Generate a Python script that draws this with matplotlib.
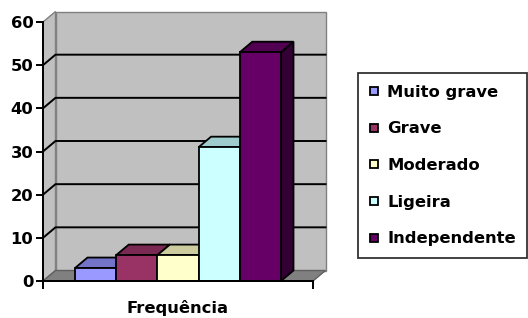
import matplotlib
matplotlib.use("Agg")
import matplotlib.pyplot as plt
from matplotlib.patches import Polygon
from matplotlib.lines import Line2D

categories = ["Muito grave", "Grave", "Moderado", "Ligeira", "Independente"]
values = [3, 6, 6, 31, 53]
front_colors = ["#9999FF", "#993366", "#FFFFCC", "#CCFFFF", "#660066"]
top_colors = ["#7373C8", "#7A2952", "#CCCC9F", "#9FCCCC", "#520052"]
side_colors = ["#4D4D80", "#4D1A33", "#808066", "#668080", "#330033"]
yticks = [0, 10, 20, 30, 40, 50, 60]
xlabel = "Frequência"

FONT = ["DejaVu Sans"]
plt.rcParams["font.family"] = FONT
FS = 11.8

W, H = 528, 318
fig = plt.figure(figsize=(W / 100, H / 100), dpi=100)
ax = fig.add_axes([43 / W, 1 - 281 / H, 270 / W, 259 / H])
fig.patch.set_facecolor("white")
ax.set_facecolor("none")

n = len(values)
margin = 0.777
xmin, xmax = -margin, n + margin
ymin, ymax = 0, 60
ax.set_xlim(xmin, xmax)
ax.set_ylim(ymin, ymax)

# depth offset in pixels converted to data units
fig.canvas.draw()
p0 = ax.transData.transform((0, 0))
p1 = ax.transData.transform((1, 1))
sx, sy = p1[0] - p0[0], p1[1] - p0[1]
ddx, ddy = 12.5 / sx, 10.5 / sy

wall = "#C0C0C0"
edge = "#808080"
# back wall
ax.add_patch(Polygon([(xmin + ddx, ymin + ddy), (xmax + ddx, ymin + ddy),
                      (xmax + ddx, ymax + ddy), (xmin + ddx, ymax + ddy)],
                     closed=True, fc=wall, ec=edge, lw=1, clip_on=False, zorder=1))
# left wall
ax.add_patch(Polygon([(xmin, ymin), (xmin + ddx, ymin + ddy),
                      (xmin + ddx, ymax + ddy), (xmin, ymax)],
                     closed=True, fc=wall, ec=edge, lw=1, clip_on=False, zorder=1))
# floor
ax.add_patch(Polygon([(xmin, ymin), (xmax, ymin), (xmax + ddx, ymin + ddy),
                      (xmin + ddx, ymin + ddy)],
                     closed=True, fc="#808080", ec="#606060", lw=1, clip_on=False, zorder=1))
# gridlines
for v in yticks[1:-1]:
    ax.plot([xmin, xmin + ddx, xmax + ddx], [v, v + ddy, v + ddy],
            color="black", lw=1.4, clip_on=False, zorder=2)

# bars
bw = 1.0
for i, (v, fc, tc, sc) in enumerate(zip(values, front_colors, top_colors, side_colors)):
    x0, x1 = i, i + bw
    z = 3 + i
    ax.add_patch(Polygon([(x1, 0), (x1 + ddx, ddy), (x1 + ddx, v + ddy), (x1, v)],
                         closed=True, fc=sc, ec="black", lw=1.3, clip_on=False, zorder=z))
    ax.add_patch(Polygon([(x0, v), (x1, v), (x1 + ddx, v + ddy), (x0 + ddx, v + ddy)],
                         closed=True, fc=tc, ec="black", lw=1.3, clip_on=False, zorder=z))
    ax.add_patch(Polygon([(x0, 0), (x1, 0), (x1, v), (x0, v)],
                         closed=True, fc=fc, ec="black", lw=1.3, clip_on=False, zorder=z))

# axes
for s in ["top", "right"]:
    ax.spines[s].set_visible(False)
for s in ["left", "bottom"]:
    ax.spines[s].set_color("black")
    ax.spines[s].set_linewidth(1.4)
    ax.spines[s].set_zorder(20)
ax.set_yticks(yticks)
ax.set_yticklabels([str(t) for t in yticks], fontsize=FS, fontweight="bold", color="black")
ax.tick_params(axis="y", length=5, width=1.4, pad=2, color="black")
ax.set_xticks([xmin, xmax])
ax.set_xticklabels(["", ""])
ax.tick_params(axis="x", length=6, width=1.4, color="black")
ax.text(0.5, (281 - 313) / 259, xlabel, transform=ax.transAxes, ha="center", va="baseline",
        fontsize=FS, fontweight="bold", color="black")

handles = [Line2D([], [], marker="s", ls="none", markersize=6.0, markerfacecolor=c,
                  markeredgecolor="black", markeredgewidth=1.3) for c in front_colors]
leg = fig.legend(handles, categories, loc="upper left",
                 bbox_to_anchor=(358 / W, 1 - 73 / H), bbox_transform=fig.transFigure,
                 frameon=True, fancybox=False, edgecolor="black", borderpad=0.72,
                 labelspacing=1.32, handlelength=0.5, handletextpad=0.55,
                 borderaxespad=0,
                 prop={"family": FONT, "weight": "bold", "size": FS})
leg.get_frame().set_linewidth(1.3)
for t in leg.get_texts():
    t.set_color("black")

fig.savefig("out.png", dpi=100, facecolor="white")
